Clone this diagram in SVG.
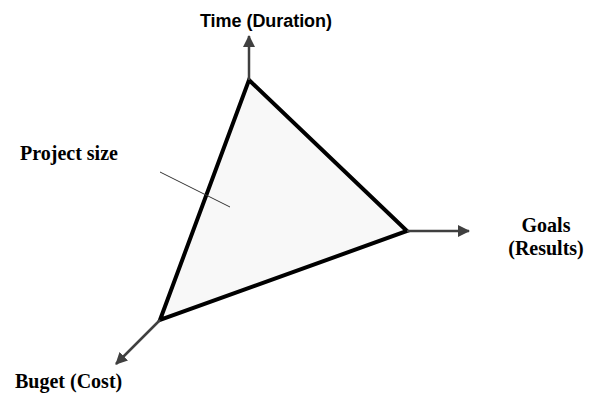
<svg xmlns="http://www.w3.org/2000/svg" width="591" height="394" viewBox="0 0 591 394">
<style>
.axis{stroke:#404040;stroke-width:2.5;fill:none}
.serif{font-family:"Liberation Serif","Times New Roman",serif;font-weight:bold;font-size:20px;fill:#000}
.sans{font-family:"Liberation Sans",Arial,sans-serif;font-weight:bold;font-size:18px;fill:#000}
</style>
<defs>
<marker id="ah" viewBox="0 0 12 12" refX="11" refY="6" markerWidth="12" markerHeight="12" markerUnits="userSpaceOnUse" orient="auto">
<path d="M0,0 L12,6 L0,12 Z" fill="#404040"/>
</marker>
</defs>
<rect width="591" height="394" fill="#fff"/>
<g id="triangle">
<polygon points="249,80 407,231 160,320" fill="#f8f8f8" stroke="#000" stroke-width="4" stroke-linejoin="miter"/>
</g>
<g id="connectors">
<line class="axis" x1="249" y1="80" x2="249" y2="36" marker-end="url(#ah)"/>
<line class="axis" x1="407" y1="231" x2="469" y2="231" marker-end="url(#ah)"/>
<line class="axis" x1="160" y1="320" x2="116" y2="364" marker-end="url(#ah)"/>
<line x1="160" y1="172" x2="230" y2="207" stroke="#333" stroke-width="1"/>
</g>
<g id="time"><text class="sans" x="266" y="27" text-anchor="middle" textLength="132">Time (Duration)</text></g>
<g id="project-size"><text class="serif" x="20" y="160">Project size</text></g>
<g id="goals"><text class="serif" x="546" y="232" text-anchor="middle">Goals</text><text class="serif" x="546" y="255" text-anchor="middle">(Results)</text></g>
<g id="budget"><text class="serif" x="15" y="388">Buget (Cost)</text></g>
</svg>
